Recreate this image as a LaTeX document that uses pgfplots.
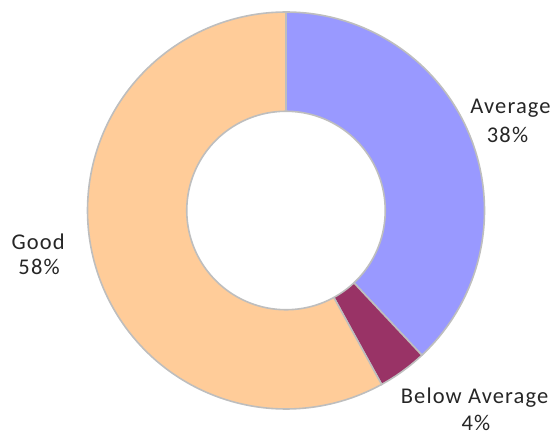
\documentclass[border=0pt]{standalone}
\usepackage{pgfplots}
\pgfplotsset{compat=1.18}
\usepackage{fontspec}
\setmainfont{Carlito}[LetterSpace=5]
\definecolor{avgc}{HTML}{9999FF}
\definecolor{belowc}{HTML}{993366}
\definecolor{goodc}{HTML}{FFCC99}
\definecolor{bord}{HTML}{BEBEBE}
% values (percent)
\def\vAvg{38}
\def\vBelow{4}
\def\vGood{58}
\pgfmathsetmacro\aS{90}
\pgfmathsetmacro\aA{\aS-3.6*\vAvg}
\pgfmathsetmacro\aB{\aA-3.6*\vBelow}
\pgfmathsetmacro\aC{\aB-3.6*\vGood}
\begin{document}
\begin{tikzpicture}[lab/.style={font=\fontsize{22.5bp}{28bp}\selectfont, text=black!85, inner sep=0pt, anchor=base}]
\begin{axis}[
  scale only axis,
  axis line style={draw=none}, xtick=\empty, ytick=\empty,
  width=554bp, height=440bp,
  xmin=-1.4408, xmax=1.3501, ymin=-1.1562, ymax=1.0605,
  clip=false,
]
\addplot[fill=avgc, draw=bord, line width=1.6bp, domain=\aA:\aS, samples=120] ({cos(x)},{sin(x)}) -- (axis cs:0,0) -- cycle;
\addplot[fill=belowc, draw=bord, line width=1.6bp, domain=\aB:\aA, samples=20] ({cos(x)},{sin(x)}) -- (axis cs:0,0) -- cycle;
\addplot[fill=goodc, draw=bord, line width=1.6bp, domain=\aC:\aB, samples=160] ({cos(x)},{sin(x)}) -- (axis cs:0,0) -- cycle;
\addplot[fill=white, draw=bord, line width=1.6bp, domain=0:360, samples=140] ({0.5*cos(x)},{0.5*sin(x)}) -- cycle;
\node[lab] at (axis cs:1.131,0.491) {Average};
\node[lab] at (axis cs:1.116,0.345) {\vAvg\%};
\node[lab] at (axis cs:-1.249,-0.194) {Good};
\node[lab] at (axis cs:-1.244,-0.320) {\vGood\%};
\node[lab] at (axis cs:0.950,-0.970) {Below Average};
\node[lab] at (axis cs:0.957,-1.106) {\vBelow\%};
\end{axis}
\end{tikzpicture}
\end{document}
